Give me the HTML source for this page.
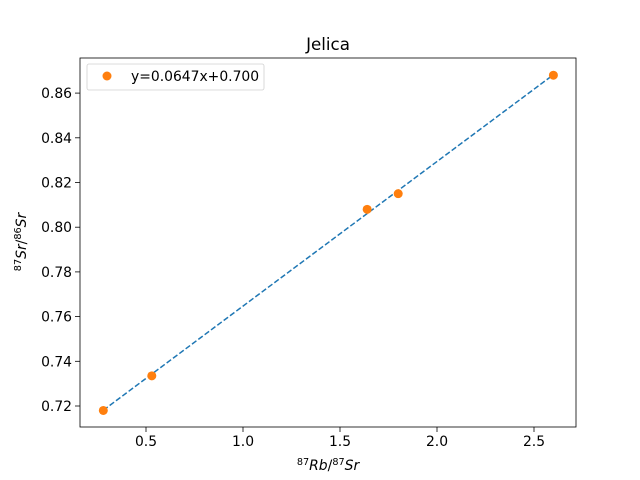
<!DOCTYPE html>
<html><head><meta charset="utf-8"><style>body{margin:0;background:#fff}svg{display:block}text{font-family:"DejaVu Sans","Liberation Sans",sans-serif;}</style></head>
<body>
<svg id="chart" width="640" height="480" viewBox="0 0 640 480" xmlns="http://www.w3.org/2000/svg">
<rect x="0" y="0" width="640" height="480" fill="#fff"/>
<text x="328" y="50" font-size="16.7" text-anchor="middle">Jelica</text>
<g id="plot"></g>
<rect x="80" y="58" width="496" height="369" fill="none" stroke="#000" stroke-width="0.8"/>
<g>
<rect x="87" y="64" width="177" height="26" rx="2" fill="#fff" stroke="#ccc" stroke-width="0.8" opacity="0.9"/>
<circle cx="107" cy="76" r="4.5" fill="#ff7f0e"/>
<text x="131" y="81" font-size="13.9">y=0.0647x+0.700</text>
</g>
<text x="328" y="470" font-size="13.9" text-anchor="middle"><tspan font-size="9.7" dy="-5">87</tspan><tspan dy="5" font-style="italic">Rb</tspan>/<tspan font-size="9.7" dy="-5">87</tspan><tspan dy="5" font-style="italic">Sr</tspan></text>
<text transform="translate(26,242) rotate(-90)" font-size="13.9" text-anchor="middle"><tspan font-size="9.7" dy="-5">87</tspan><tspan dy="5" font-style="italic">Sr</tspan>/<tspan font-size="9.7" dy="-5">86</tspan><tspan dy="5" font-style="italic">Sr</tspan></text>
</svg>
<script>
const xs = [0.28, 0.53, 1.64, 1.80, 2.60];
const ys = [0.718, 0.7335, 0.808, 0.815, 0.868];
const slope = 0.0647, intercept = 0.700;
const xTicks = [0.5, 1.0, 1.5, 2.0, 2.5];
const yTicks = [0.72, 0.74, 0.76, 0.78, 0.80, 0.82, 0.84, 0.86];
const NS = "http://www.w3.org/2000/svg";
function sx(v){return 243 + (v-1.0)*194;}
function sy(v){return 406 - (v-0.72)/0.02*44.7;}
const g = document.getElementById('plot');
function mk(t,a){const e=document.createElementNS(NS,t);for(const k in a)e.setAttribute(k,a[k]);g.appendChild(e);return e;}
xTicks.forEach(t=>{
  const l=mk('line',{x1:sx(t),x2:sx(t),y1:427,y2:432,stroke:'#000','stroke-width':0.8});
  
  
  const tx=mk('text',{x:sx(t),y:446,'font-size':13.9,'text-anchor':'middle'});tx.textContent=t.toFixed(1);
  
  
});
yTicks.forEach(t=>{
  const l=mk('line',{x1:75,x2:80,y1:sy(t),y2:sy(t),stroke:'#000','stroke-width':0.8});
  
  
  const tx=mk('text',{x:72,y:sy(t)+5,'font-size':13.9,'text-anchor':'end'});tx.textContent=t.toFixed(2);
  
  
});
const pts=xs.map(x=>sx(x)+','+sy(slope*x+intercept)).join(' ');
const fl=mk('polyline',{points:pts,fill:'none',stroke:'#1f77b4','stroke-width':1.5,'stroke-dasharray':'5.5,2.4'});


xs.forEach((x,i)=>{
  const c=mk('circle',{cx:sx(x),cy:sy(ys[i]),r:4.5,fill:'#ff7f0e'});
  
  
});
</script>
</body></html>
